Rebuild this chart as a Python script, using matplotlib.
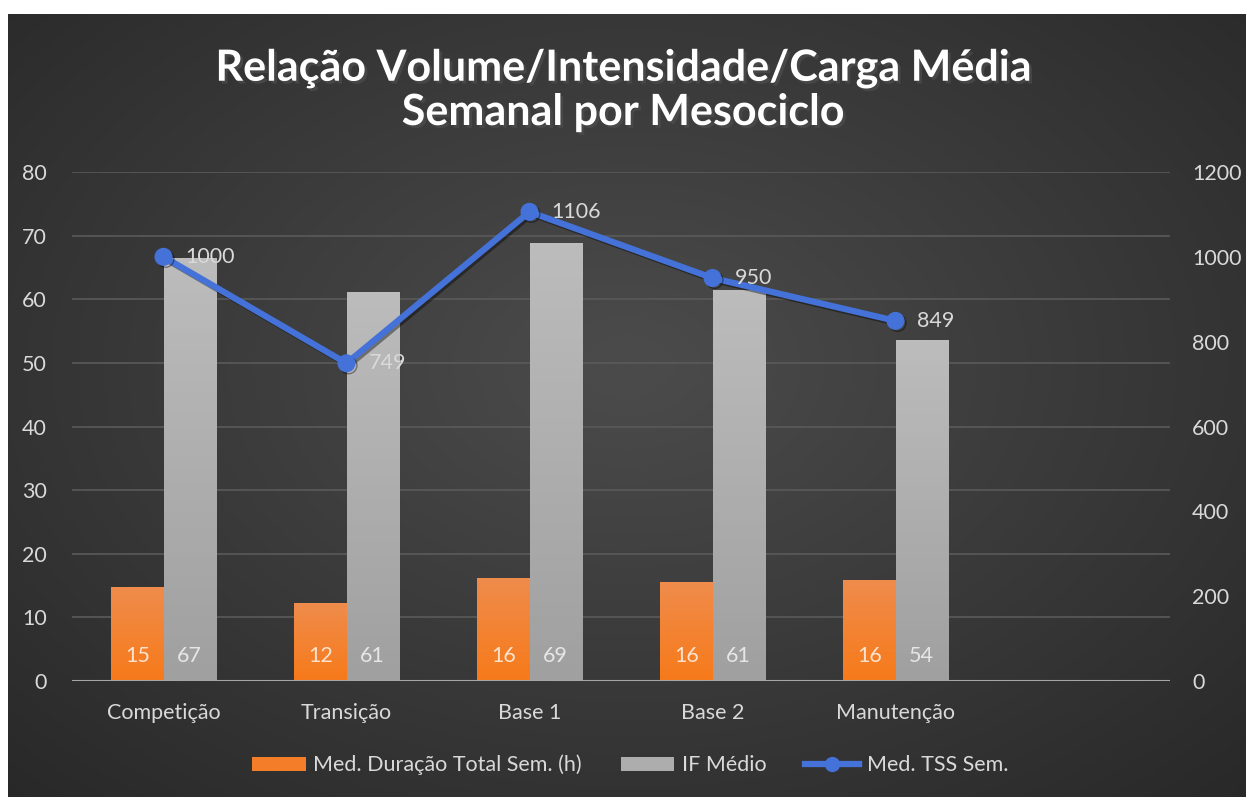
import numpy as np
import matplotlib
matplotlib.use("Agg")
from matplotlib import pyplot as plt
from matplotlib import patheffects as pe
from matplotlib.colors import LinearSegmentedColormap
from matplotlib.lines import Line2D
from matplotlib.patches import Patch

plt.rcParams['font.family'] = ['Lato', 'DejaVu Sans']

# data
categorias = ["Competição", "Transição", "Base 1", "Base 2", "Manutenção", ""]
duracao = [14.8, 12.2, 16.2, 15.6, 15.9]
duracao_lbl = ["15", "12", "16", "16", "16"]
if_medio = [66.5, 61.2, 68.9, 61.4, 53.6]
if_lbl = ["67", "61", "69", "61", "54"]
tss = [1000, 749, 1106, 950, 849]

# colors
txt_color = "#d9d9d9"
orange_top, orange_bot = "#ef8c4c", "#f77a1a"
gray_top, gray_bot = "#bcbcbc", "#a0a0a0"
blue = "#4472d8"

fig = plt.figure(figsize=(12.46, 7.97), dpi=100)
fig.patch.set_facecolor("white")

# background with radial gradient
bg = fig.add_axes([8/1246, 0, 1 - 8/1246, 1 - 14/797])
bg.set_axis_off()
yy, xx = np.mgrid[0:1:300j, 0:1:470j]
r = np.sqrt(((xx - 0.5) / 0.75) ** 2 + ((yy - 0.45) / 0.8) ** 2)
shade = np.clip(1 - r, 0, 1)
bg_cmap = LinearSegmentedColormap.from_list("bg", ["#272727", "#4a4a4a"])
bg.imshow(shade, cmap=bg_cmap, aspect="auto", extent=[0, 1, 0, 1], vmin=0, vmax=0.95)

ax = fig.add_axes([72/1246, 1 - 681/797, (1170 - 72)/1246, (681 - 172)/797])
ax.patch.set_alpha(0)
x = np.arange(len(duracao))
w = 0.285

def grad_bar(a, bar, c_top, c_bot):
    bx, by = bar.get_xy()
    bw, bh = bar.get_width(), bar.get_height()
    cm = LinearSegmentedColormap.from_list("g", [c_bot, c_top])
    im = a.imshow(np.linspace(0, 1, 100).reshape(-1, 1), extent=[bx, bx + bw, by, by + bh],
                  origin="lower", aspect="auto", cmap=cm, zorder=2)
    im.set_clip_path(bar)
    bar.set_facecolor("none")

bars1 = ax.bar(x - w/2, duracao, w, zorder=2, linewidth=0)
bars2 = ax.bar(x + w/2, if_medio, w, zorder=2, linewidth=0)
for b in bars1:
    grad_bar(ax, b, orange_top, orange_bot)
for b in bars2:
    grad_bar(ax, b, gray_top, gray_bot)

for i in range(len(duracao)):
    ax.text(x[i] - w/2, 4.0, duracao_lbl[i], ha="center", va="center", color="#fbe3d0", fontsize=15.5, zorder=5)
    ax.text(x[i] + w/2, 4.0, if_lbl[i], ha="center", va="center", color="#e6e6e6", fontsize=15.5, zorder=5)

ax.set_xlim(-0.5, 5.5)
ax.set_ylim(0, 80)
ax.set_yticks(range(0, 81, 10))
ax.set_xticks(range(6))
ax.set_xticklabels(categorias)
ax.grid(axis="y", color="#5a5a5a", linewidth=1.2, zorder=0)
ax.set_axisbelow(True)
for s in ax.spines.values():
    s.set_visible(False)
ax.axhline(0, color="#a6a6a6", linewidth=1.5, zorder=3)
ax.tick_params(axis="both", length=0, colors=txt_color, labelsize=15.5)
ax.tick_params(axis="y", pad=18)
ax.tick_params(axis="x", pad=16)

ax2 = ax.twinx()
ax2.set_ylim(0, 1200)
ax2.set_yticks(range(0, 1201, 200))
for s in ax2.spines.values():
    s.set_visible(False)
ax2.tick_params(axis="y", length=0, colors=txt_color, labelsize=15.5, pad=16)
ax2.plot(x, tss, color=blue, linewidth=4.5, marker="o", markersize=12, zorder=6,
         path_effects=[pe.SimpleLineShadow(offset=(1.5, -1.5), alpha=0.4), pe.Normal()])
for i in range(len(tss)):
    ax2.text(x[i] + 0.12, tss[i], str(tss[i]), ha="left", va="center", color=txt_color, fontsize=15.5, zorder=7)

# title
fig.text(0.5, 1 - 68/797, "Relação Volume/Intensidade/Carga Média", ha="center", va="center",
         color="white", fontsize=31, fontweight="bold",
         path_effects=[pe.withSimplePatchShadow(offset=(2, -2), alpha=0.7)])
fig.text(0.5, 1 - 112/797, "Semanal por Mesociclo", ha="center", va="center",
         color="white", fontsize=31, fontweight="bold",
         path_effects=[pe.withSimplePatchShadow(offset=(2, -2), alpha=0.7)])

# legend
handles = [Patch(facecolor="#f47d2a", edgecolor="none"),
           Patch(facecolor="#adadad", edgecolor="none"),
           Line2D([0], [0], color=blue, linewidth=4.5, marker="o", markersize=10)]
labels = ["Med. Duração Total Sem. (h)", "IF Médio", "Med. TSS Sem."]
leg = fig.legend(handles, labels, loc="center", bbox_to_anchor=(630/1246, 1 - 765/797), ncol=3,
                 frameon=False, fontsize=15.5, handlelength=2.5, handleheight=0.6,
                 handletextpad=0.35, columnspacing=1.8)
for t in leg.get_texts():
    t.set_color(txt_color)

plt.savefig("out.png", dpi=100)
